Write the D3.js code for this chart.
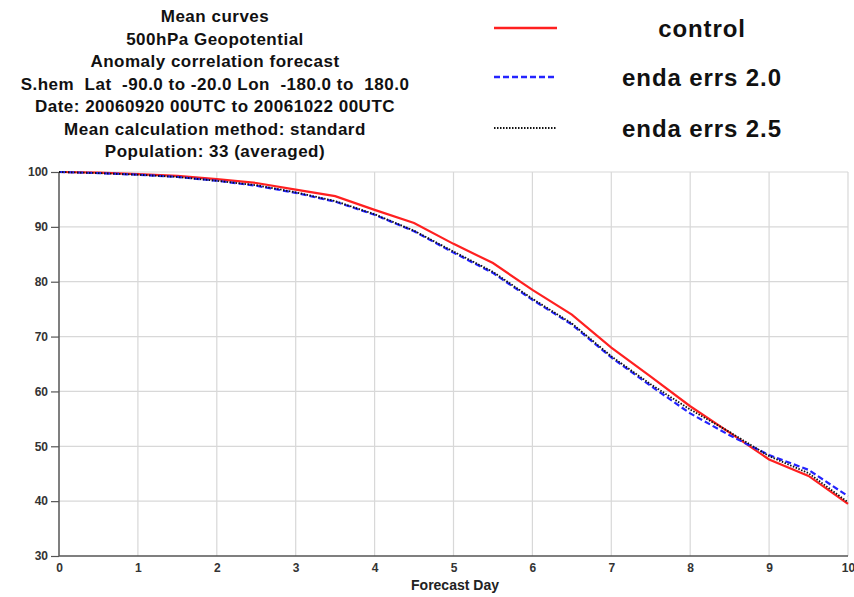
<!DOCTYPE html>
<html><head><meta charset="utf-8">
<script src="https://cdn.jsdelivr.net/npm/d3@7"></script>
<style>body{margin:0;background:#fff;} svg{display:block;font-family:"Liberation Sans",Arial,sans-serif;} text{white-space:pre;}</style>
</head><body>
<svg id="c" width="854" height="597"></svg>
<script>
const days = [0,0.5,1,1.5,2,2.5,3,3.5,4,4.5,5,5.5,6,6.5,7,7.5,8,8.5,9,9.5,10];
const control   = [100,99.9,99.6,99.3,98.7,98.0,96.8,95.6,93.1,90.7,86.9,83.4,78.5,74.0,68.0,62.7,57.3,52.5,47.6,44.6,39.5];
const enda20    = [100,99.8,99.5,99.1,98.4,97.5,96.2,94.6,92.2,89.2,85.3,81.6,76.7,72.2,66.2,61.0,56.0,52.0,48.4,45.7,40.9];
const enda25    = [100,99.8,99.5,99.1,98.4,97.6,96.3,94.7,92.3,89.3,85.5,81.8,76.9,72.4,66.4,61.3,56.7,52.6,48.2,45.1,39.8];
const xTicks = [0,1,2,3,4,5,6,7,8,9,10];
const yTicks = [30,40,50,60,70,80,90,100];
const titleLines = ["Mean curves","500hPa Geopotential","Anomaly correlation forecast",
  "S.hem  Lat  -90.0 to -20.0 Lon  -180.0 to  180.0","Date: 20060920 00UTC to 20061022 00UTC",
  "Mean calculation method: standard","Population: 33 (averaged)"];
const seriesNames = ["control","enda errs 2.0","enda errs 2.5"];
const seriesColors = ["#ff2020","#2424ff","#111111"];
const seriesDash = [null,"6,3","1.5,1.5"];
const seriesWidth = [2.2,2.2,1.8];
const seriesData = [control, enda20, enda25];

const svg = d3.select("#c");
const x = d3.scaleLinear().domain([0,10]).range([59,848]);
const y = d3.scaleLinear().domain([30,100]).range([556,172]);

// grid
svg.append("g").selectAll("line").data(xTicks.slice(1)).join("line")
  .attr("x1",d=>x(d)).attr("x2",d=>x(d)).attr("y1",y(30)).attr("y2",y(100))
  .attr("stroke","#d8d8d8").attr("stroke-width",1.2);
svg.append("g").selectAll("line").data(yTicks.slice(1)).join("line")
  .attr("x1",x(0)).attr("x2",x(10)).attr("y1",d=>y(d)).attr("y2",d=>y(d))
  .attr("stroke","#d8d8d8").attr("stroke-width",1.2);

// axes
const xAxis = svg.append("g").attr("transform",`translate(0,${y(30)})`)
  .call(d3.axisBottom(x).tickValues(xTicks).tickSize(0).tickPadding(7).tickFormat(d3.format("d")));
const yAxis = svg.append("g").attr("transform",`translate(${x(0)},0)`)
  .call(d3.axisLeft(y).tickValues(yTicks).tickSize(8).tickPadding(3).tickFormat(d3.format("d")));
[xAxis,yAxis].forEach(a=>{
  a.select(".domain").attr("stroke","#555").attr("stroke-width",1.5);
  a.selectAll(".tick line").attr("stroke","#555").attr("stroke-width",1.2);
  a.selectAll("text").attr("fill","#333").attr("font-size",12).attr("font-weight","bold")
   .attr("font-family","Liberation Sans, Arial, sans-serif");
});
yAxis.select(".domain").attr("d",`M0,${y(30)}V${y(100)}`);
xAxis.select(".domain").attr("d",`M${x(0)},0H${x(10)}`);

svg.append("text").attr("x",455).attr("y",590).attr("text-anchor","middle")
  .attr("font-size",14).attr("font-weight","bold").attr("fill","#222").text("Forecast Day");

// lines
const line = d3.line().x((d,i)=>x(days[i])).y(d=>y(d));
seriesData.forEach((s,k)=>{
  svg.append("path").datum(s).attr("d",line).attr("fill","none")
    .attr("stroke",seriesColors[k]).attr("stroke-width",seriesWidth[k])
    .attr("stroke-dasharray",seriesDash[k]);
});

// title
svg.append("g").selectAll("text").data(titleLines).join("text")
  .attr("x",215).attr("y",(d,i)=>22+i*22.5).attr("text-anchor","middle")
  .attr("font-size",17).attr("font-weight","bold").attr("letter-spacing",0.5)
  .attr("fill","#111").text(d=>d);

// legend
const ly = [28,77,128];
seriesNames.forEach((n,k)=>{
  svg.append("line").attr("x1",494).attr("x2",557).attr("y1",ly[k]).attr("y2",ly[k])
    .attr("stroke",seriesColors[k]).attr("stroke-width",k===2?1.8:2.4)
    .attr("stroke-dasharray",seriesDash[k]);
  svg.append("text").attr("x",702).attr("y",ly[k]+9).attr("text-anchor","middle")
    .attr("font-size",24).attr("font-weight","bold").attr("letter-spacing",0.9)
    .attr("fill","#111").text(n);
});
</script>
</body></html>
